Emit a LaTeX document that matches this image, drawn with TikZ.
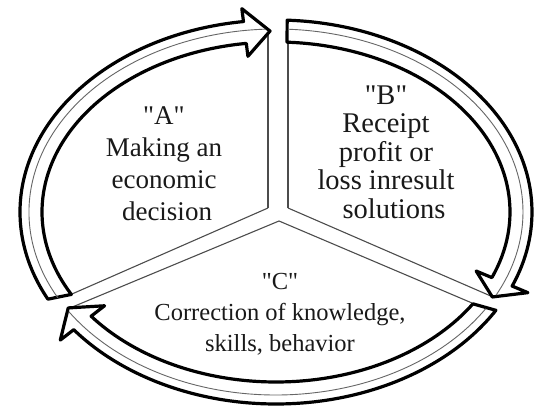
\documentclass[tikz,border=0pt]{standalone}
\usepackage{fontspec}
\setmainfont{Liberation Serif}[Ligatures=TeXOff]
\newcommand{\epc}[3]{\coordinate (#1) at ({276+(245+(#3))*cos(#2)},{197+(181+(#3))*sin(#2)});}
\begin{document}
\begin{tikzpicture}[x=1pt,y=1pt]
\tikzset{
  band/.style={fill=white, draw=black, line width=3.2pt, line join=round},
  midline/.style={draw=black!60, line width=0.9pt},
  divider/.style={draw=black!70, line width=1.1pt},
  lbl/.style={align=center, inner sep=0pt, text=black!90}
}
\useasboundingbox (0,0) rectangle (534,409);
% divider junction points
\coordinate (jl) at (268,201);
\coordinate (jr) at (288,201);
\coordinate (jc) at (279,188);
\coordinate (tl) at (268,377);
\coordinate (tr) at (288,372);
\coordinate (el) at (72,115);
\coordinate (er) at (493,112);
\coordinate (fl) at (70,101);
\coordinate (fr) at (472,106);
\draw[divider] (jl) -- (tl);
\draw[divider] (jr) -- (tr);
\draw[divider] (jl) -- (el);
\draw[divider] (jr) -- (er);
\draw[divider] (jc) -- (fl);
\draw[divider] (jc) -- (fr);
% arrow A
\epc{A1}{207}{11}
\epc{A2}{97.3}{24}
\epc{A3}{91.4}{0}
\epc{A4}{97.3}{-24}
\epc{A5}{97.3}{-11}
\epc{Ag}{208}{2}
\path[band] (A1) arc[start angle=207, end angle=97.3, x radius=256, y radius=192]
  -- (A2) -- (A3) -- (A4) -- (A5)
  arc[start angle=97.3, end angle=209, x radius=234, y radius=170] -- cycle;
\draw[midline] (Ag) arc[start angle=208, end angle=92.5, x radius=247, y radius=183];
% arrow B
\epc{B1}{87.5}{11}
\epc{B2}{-22.7}{28}
\epc{B3}{-28}{0}
\epc{B4}{-22.7}{-28}
\epc{B5}{-22.7}{-11}
\epc{Bg}{87.2}{2}
\path[band] (B1) arc[start angle=87.5, end angle=-22.7, x radius=256, y radius=192]
  -- (B2) -- (B3) -- (B4) -- (B5)
  arc[start angle=-22.7, end angle=87.3, x radius=234, y radius=170] -- cycle;
\draw[midline] (Bg) arc[start angle=87.2, end angle=-27, x radius=247, y radius=183];
% arrow C
\epc{C1}{-30.8}{11}
\epc{C2}{-142.2}{28}
\epc{C3}{-148}{0}
\epc{C4}{-142.2}{-28}
\epc{C5}{-142.2}{-11}
\epc{Cg}{-31.9}{2}
\path[band] (C1) arc[start angle=-30.8, end angle=-142.2, x radius=256, y radius=192]
  -- (C2) -- (C3) -- (C4) -- (C5)
  arc[start angle=-142.2, end angle=-32.7, x radius=234, y radius=170] -- cycle;
\draw[midline] (Cg) arc[start angle=-31.9, end angle=-147, x radius=247, y radius=183];
% labels
\node[lbl, font=\fontsize{27}{32}\selectfont] (ta) at (164,245) {"A"\\Making an\\economic\\\hspace*{6pt}decision};
\node[lbl, font=\fontsize{28.5}{28.5}\selectfont] (tb) at (386,257) {"B"\\Receipt\\profit or\\loss inresult\\\hspace*{16pt}solutions};
\node[lbl, font=\fontsize{24.5}{31}\selectfont] (tc) at (280,95) {"C"\\Correction of knowledge,\\skills, behavior};
\end{tikzpicture}
\end{document}
